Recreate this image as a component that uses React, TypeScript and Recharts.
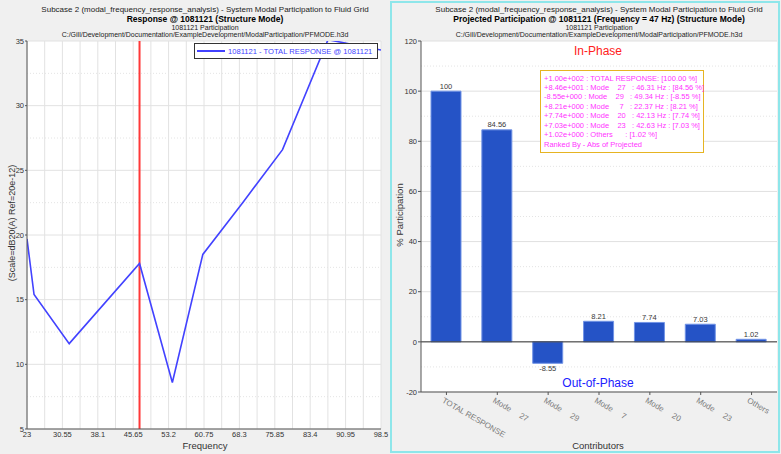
import React from "react";
import {
  LineChart,
  Line,
  BarChart,
  Bar,
  XAxis,
  YAxis,
  CartesianGrid,
  ReferenceLine,
  Legend,
} from "recharts";

const FONT = '"Liberation Sans", Arial, sans-serif';

// left panel: response curve
const freqHz = [23, 24.5, 32, 47, 54, 60.5, 69, 77.5, 87.2, 98.5];
const responseDb = [19.7, 15.4, 11.6, 17.8, 8.6, 18.5, 22.5, 26.6, 35.1, 34.3];
const freqTicks = [23, 30.55, 38.1, 45.65, 53.2, 60.75, 68.3, 75.85, 83.4, 90.95, 98.5];
const dbTicks = [5, 10, 15, 20, 25, 30, 35];
const markerFreq = 47;

// right panel: participation bars
const contributors = ["TOTAL RESPONSE", "Mode 27", "Mode 29", "Mode 7", "Mode 20", "Mode 23", "Others"];
const participation = [100, 84.56, -8.55, 8.21, 7.74, 7.03, 1.02];
const projected = ["+1.00e+002", "+8.46e+001", "-8.55e+000", "+8.21e+000", "+7.74e+000", "+7.03e+000", "+1.02e+000"];
const modeFreqs = [null, 46.31, 49.34, 22.37, 42.13, 42.63, null];
const pctTicks = [-20, 0, 20, 40, 60, 80, 100, 120];

const midpoints = (t: number[]) => t.slice(1).map((v, i) => (v + t[i]) / 2);

const lineData = freqHz.map((f, i) => ({ f, db: responseDb[i] }));
const barData = contributors.map((name, i) => ({ name, value: participation[i] }));

const summaryLines = contributors.map((name, i) => {
  const pct = `[${participation[i].toFixed(2)} %]`;
  const m = /^Mode (\d+)$/.exec(name);
  if (m) {
    return `${projected[i]} : Mode ${m[1].padStart(5)}   : ${modeFreqs[i]!.toFixed(2)} Hz : ${pct}`;
  }
  if (name === "Others") return `${projected[i]} : Others      : ${pct}`;
  return `${projected[i]} : ${name}: ${pct}`;
});

const subcase = "Subcase 2 (modal_frequency_response_analysis) - System Modal Participation to Fluid Grid";
const filePath = "C:/Gill/Development/Documentation/ExampleDevelopment/ModalParticipation/PFMODE.h3d";

function scaleOr(axis: any, v: number, lin: () => number) {
  return axis && typeof axis.scale === "function" ? axis.scale(v) : lin();
}

function ContributorTick(props: any) {
  const { x, y, payload } = props;
  const label = String(payload.value);
  const m = /^Mode (\d+)$/.exec(label);
  const tx = x - 5;
  const ty = y + 5;
  return (
    <text
      x={tx}
      y={ty}
      transform={`rotate(30 ${tx} ${ty})`}
      fontSize={8}
      fill="#7d7d7d"
      fontFamily={FONT}
    >
      {m ? (
        <>
          Mode<tspan dx={10.5}>{m[1]}</tspan>
        </>
      ) : (
        label
      )}
    </text>
  );
}

function BarValue(props: any) {
  const { x, y, width, height, value } = props;
  const top = Math.min(y, y + height);
  const bottom = Math.max(y, y + height);
  const neg = value < 0;
  return (
    <text
      x={x + width / 2}
      y={neg ? bottom + 8 : top - 2.5}
      textAnchor="middle"
      fontSize={7.5}
      fill="#3a3a3a"
      fontFamily={FONT}
    >
      {value}
    </text>
  );
}

function TitleBlock({ cx, bold }: { cx: number; bold: string }) {
  return (
    <g textAnchor="middle" fill="#222">
      <text x={cx} y={12} fontSize={8}>{subcase}</text>
      <text x={cx} y={22} fontSize={8.5} fontWeight="bold" fill="#000">{bold}</text>
      <text x={cx} y={29.5} fontSize={7}>1081121 Participation</text>
      <text x={cx} y={37} fontSize={7}>{filePath}</text>
    </g>
  );
}

export default function App() {
  const tick = { fontSize: 7.5, fill: "#333", fontFamily: FONT };
  return (
    <div
      style={{
        position: "absolute",
        left: 0,
        top: 0,
        width: 781,
        height: 454,
        background: "#f0f0f0",
        fontFamily: FONT,
        overflow: "hidden",
      }}
    >
      <div style={{ position: "absolute", left: 0, top: 0 }}>
        <LineChart
          width={390}
          height={454}
          data={lineData}
          margin={{ top: 41, right: 9, bottom: 0, left: 0 }}
        >
          <CartesianGrid
            fill="#fff"
            stroke="#e2e2e2"
            verticalCoordinatesGenerator={({ xAxis, offset }: any) =>
              [...freqTicks, ...midpoints(freqTicks)].map((v) =>
                scaleOr(xAxis, v, () => offset.left + ((v - 23) / 75.5) * offset.width)
              )
            }
          />
          <CartesianGrid
            vertical={false}
            stroke="#e4e4e4"
            strokeDasharray="1 2"
            horizontalCoordinatesGenerator={({ yAxis, offset }: any) =>
              midpoints(dbTicks).map((v) =>
                scaleOr(yAxis, v, () => offset.top + ((35 - v) / 30) * offset.height)
              )
            }
          />
          <XAxis
            dataKey="f"
            type="number"
            domain={[23, 98.5]}
            ticks={freqTicks}
            interval={0}
            allowDataOverflow
            height={25}
            tick={tick}
            tickSize={0}
            tickMargin={3}
            axisLine={{ stroke: "#555" }}
          />
          <XAxis
            xAxisId="top"
            orientation="top"
            type="number"
            domain={[23, 98.5]}
            height={0}
            tick={false}
            tickLine={false}
            axisLine={{ stroke: "#555" }}
          />
          <YAxis
            type="number"
            domain={[5, 35]}
            ticks={dbTicks}
            interval={0}
            allowDataOverflow
            width={27}
            tick={tick}
            tickSize={2}
            tickMargin={1}
            axisLine={{ stroke: "#555" }}
            tickLine={{ stroke: "#555" }}
          />
          <YAxis
            yAxisId="right"
            orientation="right"
            type="number"
            domain={[5, 35]}
            width={0}
            tick={false}
            tickLine={false}
            axisLine={{ stroke: "#555" }}
          />
          <ReferenceLine x={markerFreq} stroke="#ff3838" strokeWidth={2} />
          <Line
            dataKey="db"
            stroke="#4242ff"
            strokeWidth={1.6}
            dot={false}
            isAnimationActive={false}
          />
          <Legend
            layout="horizontal"
            verticalAlign="middle"
            align="center"
            wrapperStyle={{ left: 194, top: 43, width: 184 }}
            content={() => (
              <div
                style={{
                  width: 184,
                  height: 16,
                  boxSizing: "border-box",
                  border: "1px solid #333",
                  background: "#fff",
                  display: "flex",
                  alignItems: "center",
                  fontSize: 7.6,
                  color: "#4242ff",
                  whiteSpace: "nowrap",
                }}
              >
                <span
                  style={{
                    display: "inline-block",
                    width: 28,
                    height: 1.6,
                    background: "#4242ff",
                    marginLeft: 2,
                    marginRight: 3,
                  }}
                />
                1081121 - TOTAL RESPONSE @ 1081121
              </div>
            )}
          />
        </LineChart>
      </div>

      <div style={{ position: "absolute", left: 390, top: 0 }}>
        <BarChart
          width={391}
          height={454}
          data={barData}
          margin={{ top: 41, right: 4, bottom: 0, left: 0 }}
        >
          <CartesianGrid fill="#fff" vertical={false} stroke="#e0e0e0" />
          <CartesianGrid
            vertical={false}
            stroke="#e4e4e4"
            strokeDasharray="1 2"
            horizontalCoordinatesGenerator={({ yAxis, offset }: any) =>
              midpoints(pctTicks).map((v) =>
                scaleOr(yAxis, v, () => offset.top + ((120 - v) / 140) * offset.height)
              )
            }
          />
          <XAxis
            dataKey="name"
            interval={0}
            height={62}
            tick={<ContributorTick />}
            tickSize={3}
            tickLine={{ stroke: "#555" }}
            axisLine={{ stroke: "#555" }}
          />
          <XAxis
            xAxisId="top"
            dataKey="name"
            orientation="top"
            height={0}
            tick={false}
            tickLine={false}
            axisLine={{ stroke: "#555" }}
          />
          <YAxis
            type="number"
            domain={[-20, 120]}
            ticks={pctTicks}
            interval={0}
            width={31}
            tick={tick}
            tickSize={3}
            tickMargin={1}
            axisLine={{ stroke: "#555" }}
            tickLine={{ stroke: "#555" }}
          />
          <YAxis
            yAxisId="right"
            orientation="right"
            type="number"
            domain={[-20, 120]}
            width={0}
            tick={false}
            tickLine={false}
            axisLine={{ stroke: "#555" }}
          />
          <ReferenceLine y={0} stroke="#333" strokeWidth={1} />
          <Bar
            dataKey="value"
            barSize={30}
            fill="#2553c6"
            stroke="#7193e6"
            strokeWidth={1}
            label={<BarValue />}
            isAnimationActive={false}
          />
        </BarChart>
      </div>

      <div
        style={{
          position: "absolute",
          left: 540,
          top: 70,
          width: 164,
          height: 83,
          boxSizing: "border-box",
          border: "1.5px solid #e6b422",
          background: "#fff",
          padding: "2.5px 0 0 3px",
          fontSize: 7.5,
          lineHeight: "9.43px",
          color: "#ff33ff",
          whiteSpace: "pre",
        }}
      >
        {summaryLines.join("\n") + "\nRanked By - Abs of Projected"}
      </div>

      <svg
        width={781}
        height={454}
        style={{ position: "absolute", left: 0, top: 0, pointerEvents: "none" }}
        fontFamily={FONT}
      >
        <TitleBlock cx={205} bold="Response @ 1081121 (Structure Mode)" />
        <TitleBlock
          cx={599}
          bold="Projected Participation @ 1081121 (Frequency = 47 Hz) (Structure Mode)"
        />
        <text x={205} y={448.5} fontSize={9.5} textAnchor="middle" fill="#333">
          Frequency
        </text>
        <text transform="translate(15,223) rotate(-90)" fontSize={9} textAnchor="middle" fill="#333">
          (Scale=dB20(A) Ref=20e-12)
        </text>
        <text transform="translate(402.5,215) rotate(-90)" fontSize={9.5} textAnchor="middle" fill="#333">
          % Participation
        </text>
        <text x={598} y={449} fontSize={9.5} textAnchor="middle" fill="#333">
          Contributors
        </text>
        <text x={598} y={55.3} fontSize={12} textAnchor="middle" fill="#ff2020">
          In-Phase
        </text>
        <text x={598} y={387} fontSize={12} textAnchor="middle" fill="#2020ff">
          Out-of-Phase
        </text>
        <rect
          x={391}
          y={2}
          width={388}
          height={450}
          fill="none"
          stroke="#8ee6ea"
          strokeWidth={2}
        />
      </svg>
    </div>
  );
}
